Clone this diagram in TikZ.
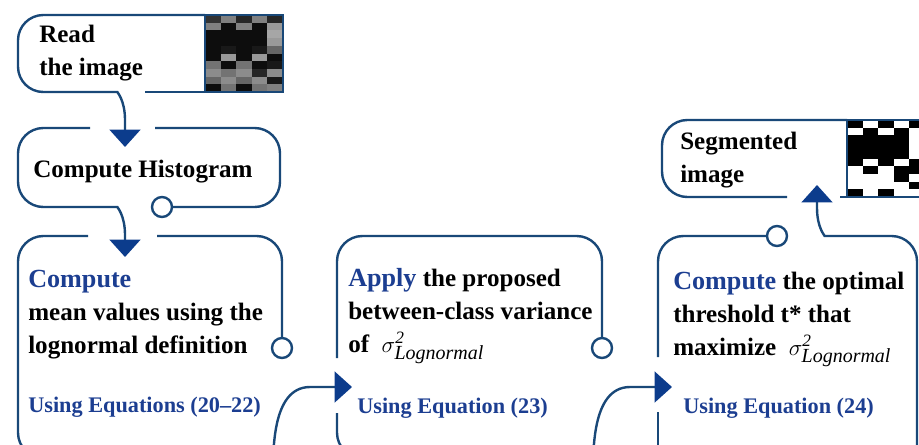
\documentclass[tikz,border=0pt]{standalone}
\usepackage{fontspec}
\setmainfont{Liberation Serif}
\usetikzlibrary{arrows.meta}

\definecolor{flowline}{RGB}{25,72,120}
\definecolor{flowtip}{RGB}{12,60,140}
\definecolor{flowblue}{RGB}{28,62,145}

\newcommand{\boxfont}{\fontsize{18.8}{24.75}\selectfont\bfseries}
\newcommand{\eqfont}{\fontsize{16.7}{20}\selectfont\bfseries\color{flowblue}}
\newcommand{\head}[1]{{\fontsize{19.6}{24.75}\selectfont\color{flowblue}#1}}
\newcommand{\lognorm}{$\sigma^{\hbox{\fontsize{13}{14}\selectfont\mdseries\itshape 2}}_{\hbox{\fontsize{15}{16}\selectfont\mdseries\itshape Lognormal}}$}

\begin{document}
\begin{tikzpicture}[x=0.75pt,y=-0.75pt,
    flow/.style={draw=flowline, line width=1.8pt, rounded corners=19pt},
    tip/.style={-{Triangle[length=13pt,width=23pt,color=flowtip]}},
    hole/.style={draw=flowline, line width=1.8pt, fill=white},
    frame/.style={draw=flowline, line width=1pt},
    txt/.style={anchor=base west, inner sep=0pt, align=left, font=\boxfont},
    eqtxt/.style={anchor=base west, inner sep=0pt, font=\eqfont}]
  \useasboundingbox (0,0) rectangle (919,444);
  \clip (0,0) rectangle (919,444);

  % grey input picture and its segmented version
  \foreach \vals [count=\r from 0] in {{80,50,85,50,85},{50,95,50,95,40},
      {95,95,95,95,35},{95,95,95,95,40},{95,90,95,90,60},{95,40,95,40,95},
      {55,95,55,95,90},{45,55,45,85,45},{60,45,60,45,90},{95,55,95,55,50}}{
    \foreach \g [count=\c from 0] in \vals {
      \fill[black!\g] (205+15.6*\c,15+7.7*\r) rectangle ++(15.7,7.8);
      \pgfmathtruncatemacro\bw{\g>69 ? 100 : 0}
      \fill[black!\bw] (847+15.6*\c,120+7.7*\r) rectangle ++(15.7,7.8);
    }
  }
  \draw[frame] (205,15) rectangle (283,92);
  \draw[frame] (847,120) rectangle (926,197);

  % Read the image (multi-line nodes sit on their last baseline)
  \draw[flow,tip] (205,15) -- (18,15) -- (18,92) -- (92,92) [sharp corners]
    .. controls (117,92) and (125,100) .. (125,120) -- (125,147);
  \draw[flow] (145,92) -- (205,92);
  \node[txt] (read) at (39,75) {Read\\the image};

  % Compute Histogram
  \draw[flow,tip] (90,128) -- (18,128) -- (18,207) -- (92,207) [sharp corners]
    .. controls (117,207) and (125,215) .. (125,235) -- (125,257);
  \draw[flow] (172,207) -- (280,207) -- (280,128) -- (155,128);
  \draw[hole] (162,207) circle (7.5pt);
  \node[txt] (hist) at (33,177) {Compute Histogram};

  % mean values
  \draw[flow,tip] (88,236) -- (18,236) -- (18,458) -- (247,458) [sharp corners]
    .. controls (275,458) and (270,387) .. (310,387) -- (352,387);
  \draw[flow] (157,236) -- (282,236) -- (282,338);
  \draw[hole] (282,348) circle (7.5pt);
  \node[txt] (mean) at (28,353) {\head{Compute}\\mean values using the\\lognormal definition};
  \node[eqtxt] (eqa) at (28,412) {Using Equations (20--22)};

  % between-class variance
  \draw[flow] (337,358) -- (337,236) -- (602,236) -- (602,338);
  \draw[hole] (602,348) circle (7.5pt);
  \draw[flow,tip] (337,413) -- (337,458) -- (567,458) [sharp corners]
    .. controls (595,458) and (590,387) .. (630,387) -- (672,387);
  \node[txt] (apply) at (348,352) {\head{Apply} the proposed\\between-class variance\\of \ \lognorm};
  \node[eqtxt] (eqb) at (357,413) {Using Equation (23)};

  % optimal threshold
  \draw[flow] (767,236) -- (658,236) -- (658,357);
  \draw[hole] (777,236) circle (7.5pt);
  \draw[flow] (658,412) -- (658,470);
  \draw[flow,tip] (917,470) -- (917,236) -- (850,236) [sharp corners]
    .. controls (825,236) and (817,228) .. (817,208) -- (817,185);
  \node[txt] (opt) at (673,355) {\head{Compute} the optimal\\threshold t* that\\maximize \ \lognorm};
  \node[eqtxt] (eqc) at (683,413) {Using Equation (24)};

  % Segmented image
  \draw[flow] (787,197) -- (662,197) -- (662,120) -- (847,120);
  \draw[flow] (840,197) -- (847,197);
  \node[txt] (seg) at (680,182) {Segmented\\image};
\end{tikzpicture}
\end{document}
